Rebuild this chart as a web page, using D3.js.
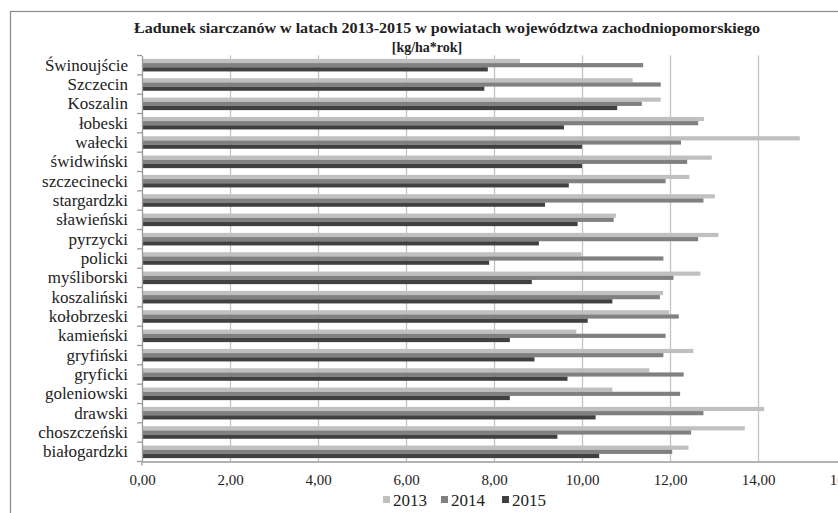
<!DOCTYPE html>
<html>
<head>
<meta charset="utf-8">
<script src="https://cdn.jsdelivr.net/npm/d3@7"></script>
<style>
  html, body { margin: 0; padding: 0; background: #fff; }
  svg { display: block; }
  text { font-family: "Liberation Serif", "Times New Roman", serif; fill: #222; }
</style>
</head>
<body>
<svg id="chart" width="838" height="513"></svg>
<script>
// Powiaty / miasta, od góry wykresu
const categories = [
  "Świnoujście", "Szczecin", "Koszalin", "łobeski", "wałecki", "świdwiński",
  "szczecinecki", "stargardzki", "sławieński", "pyrzycki", "policki",
  "myśliborski", "koszaliński", "kołobrzeski", "kamieński", "gryfiński",
  "gryficki", "goleniowski", "drawski", "choszczeński", "białogardzki"
];
const years = ["2013", "2014", "2015"];
// Ładunek siarczanów [kg/ha*rok]
const values2013 = [8.59, 11.15, 11.79, 12.77, 14.95, 12.95, 12.44, 13.02, 10.77, 13.10, 9.99,
                    12.69, 11.84, 11.98, 9.87, 12.53, 11.53, 10.69, 14.14, 13.70, 12.42];
const values2014 = [11.39, 11.79, 11.36, 12.64, 12.25, 12.39, 11.90, 12.76, 10.72, 12.64, 11.85,
                    12.08, 11.77, 12.20, 11.90, 11.85, 12.31, 12.23, 12.76, 12.48, 12.05];
const values2015 = [7.86, 7.78, 10.80, 9.59, 10.00, 10.00, 9.70, 9.16, 9.90, 9.02, 7.89,
                    8.86, 10.69, 10.13, 8.36, 8.92, 9.67, 8.36, 10.31, 9.44, 10.39];
const xTicks = [0, 2, 4, 6, 8, 10, 12, 14, 16];
const seriesColors = ["#c0c0c0", "#808080", "#404040"];

const series = [values2013, values2014, values2015];

const svg = d3.select("#chart");
const plotLeft = 142, plotRight = 846, plotTop = 55.5, plotBottom = 461.5;

// Ramka obszaru wykresu
svg.append("rect")
  .attr("x", 10.5).attr("y", 11.5).attr("width", 900).attr("height", 600)
  .attr("fill", "none").attr("stroke", "#8a8a8a").attr("stroke-width", 1.2);

const x = d3.scaleLinear().domain([0, 16]).range([plotLeft, plotRight]);
const y = d3.scaleBand().domain(categories).range([plotTop, plotBottom])
  .paddingInner(0.35).paddingOuter(0.175);
const yInner = d3.scaleBand().domain(years).range([0, y.bandwidth()]);
const yCat = d3.scaleBand().domain(categories).range([plotTop, plotBottom]);

// Pionowe linie siatki
svg.append("g").selectAll("line").data(xTicks.slice(1)).join("line")
  .attr("x1", d => Math.round(x(d)) + 0.5).attr("x2", d => Math.round(x(d)) + 0.5)
  .attr("y1", plotTop).attr("y2", plotBottom)
  .attr("stroke", "#c4c4c4").attr("stroke-width", 1.3);

// Słupki
const groups = svg.append("g").selectAll("g").data(categories).join("g")
  .attr("transform", d => `translate(0,${y(d)})`);
groups.selectAll("rect")
  .data((c, i) => years.map((yr, k) => ({ yr, k, v: series[k][i] })))
  .join("rect")
  .attr("x", x(0))
  .attr("y", d => yInner(d.yr))
  .attr("width", d => x(d.v) - x(0))
  .attr("height", yInner.bandwidth())
  .attr("fill", d => seriesColors[d.k]);

// Oś X
const xAxis = d3.axisBottom(x).tickValues(xTicks)
  .tickFormat(d => d3.format(".2f")(d).replace(".", ","))
  .tickSize(0).tickPadding(13);
const gx = svg.append("g").attr("transform", `translate(0,${plotBottom})`).call(xAxis);
gx.select(".domain").attr("stroke", "#9a9a9a").attr("stroke-width", 1.3);
gx.selectAll("text").attr("font-size", 15).attr("font-family", "Liberation Serif").attr("fill", "#333");
svg.append("line").attr("x1", plotLeft).attr("x2", plotLeft).attr("y1", plotBottom).attr("y2", plotBottom + 4)
  .attr("stroke", "#9a9a9a").attr("stroke-width", 1.3);

// Oś Y
const yAxis = d3.axisLeft(yCat).tickSize(0).tickPadding(14);
const gy = svg.append("g").attr("transform", `translate(${plotLeft},0)`).call(yAxis);
gy.select(".domain").attr("stroke", "#9a9a9a").attr("stroke-width", 1.3);
gy.selectAll("text").attr("font-size", 17).attr("font-family", "Liberation Serif").attr("fill", "#222");
// Znaczniki podziału kategorii
const bounds = categories.map(c => yCat(c)).concat([plotBottom]);
svg.append("g").selectAll("line").data(bounds).join("line")
  .attr("x1", plotLeft - 5).attr("x2", plotLeft)
  .attr("y1", d => d).attr("y2", d => d)
  .attr("stroke", "#9a9a9a").attr("stroke-width", 1.3);

// Tytuł
svg.append("text").attr("x", 447).attr("y", 33).attr("text-anchor", "middle")
  .attr("font-size", 14).attr("font-weight", "bold")
  .attr("textLength", 626).attr("lengthAdjust", "spacingAndGlyphs")
  .text("Ładunek siarczanów w latach 2013-2015 w powiatach województwa zachodniopomorskiego");
svg.append("text").attr("x", 427).attr("y", 52).attr("text-anchor", "middle")
  .attr("font-size", 14).attr("font-weight", "bold")
  .text("[kg/ha*rok]");

// Legenda
const legendX = [383, 441, 502];
const legend = svg.append("g").selectAll("g").data(years).join("g")
  .attr("transform", (d, i) => `translate(${legendX[i]},0)`);
legend.append("rect").attr("x", 0).attr("y", 496).attr("width", 7).attr("height", 7)
  .attr("fill", (d, i) => seriesColors[i]);
legend.append("text").attr("x", 10).attr("y", 506).attr("font-size", 17).attr("fill", "#222")
  .text(d => d);
</script>
</body>
</html>
